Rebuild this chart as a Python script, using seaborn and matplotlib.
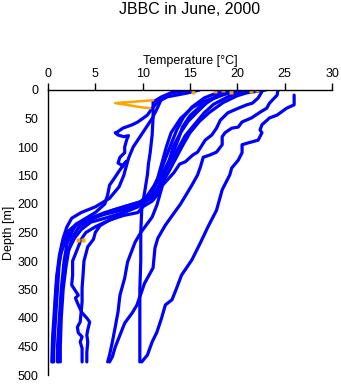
import matplotlib
matplotlib.use("Agg")
import matplotlib.pyplot as plt
import seaborn as sns
import pandas as pd

# ---- data: temperature [°C] / depth [m] profiles ----
p1_t = [26.0, 26.0, 25.2, 24.2, 23.4, 22.6, 22.4, 22.6, 22.2, 21.1, 20.5, 20.5, 20.1, 19.4, 19.2, 18.4, 17.8, 16.9, 16.1, 15.2, 14.1, 13.6, 13.1, 12.4, 12.0, 11.5, 11.0, 10.5, 9.9]
p1_d = [9, 26, 32, 44, 49, 61, 70, 75, 88, 93, 96, 110, 123, 137, 149, 175, 211, 240, 268, 298, 325, 347, 368, 377, 400, 425, 442, 465, 477]

p2_t = [24.3, 24.2, 23.4, 23.1, 22.4, 21.5, 20.5, 20.1, 19.4, 18.7, 18.4, 18.4, 17.8, 17.1, 16.4, 16.1, 15.8, 15.2, 14.0, 12.4, 11.6, 11.3, 11.1, 10.2, 9.4, 8.9, 8.1, 7.6, 7.1, 6.8, 6.5]
p2_d = [0, 9, 23, 32, 39, 49, 56, 65, 67, 75, 82, 96, 109, 114, 118, 135, 149, 167, 200, 237, 260, 277, 312, 339, 377, 391, 409, 430, 451, 468, 477]

p3_t = [22.7, 22.2, 21.6, 21.0, 20.1, 19.0, 18.2, 17.8, 17.3, 16.6, 16.3, 15.8, 15.3, 14.5, 13.9, 13.3, 12.1, 11.5, 11.0, 9.8, 9.2, 8.4, 8.1, 7.6, 7.4, 7.1, 6.8, 6.5, 6.3]
p3_d = [0, 14, 23, 26, 32, 40, 53, 67, 79, 88, 96, 109, 114, 126, 130, 145, 167, 202, 223, 250, 267, 302, 330, 360, 389, 416, 442, 465, 477]

pv_t = [14.5, 13.0, 12.0, 11.1, 11.1, 11.0, 10.8, 10.6, 10.5, 10.2, 9.9, 9.8, 9.8, 9.7, 9.7, 9.7, 9.7]
pv_d = [0, 5, 12, 21, 49, 79, 109, 131, 149, 180, 210, 250, 300, 350, 400, 450, 477]

pl_t = [16.0, 14.8, 12.6, 11.6, 11.0, 10.5, 9.5, 8.9, 7.9, 7.3, 7.1, 7.4, 8.0, 8.5, 8.3, 8.1, 8.1, 7.6, 7.4, 7.9, 8.3, 7.6, 7.0, 6.5, 6.3, 6.0, 5.0, 4.0, 3.0, 2.5, 2.0, 1.7, 1.4, 1.2, 1.0, 1.0]
pl_d = [0, 5, 12, 21, 32, 44, 56, 61, 67, 74, 75, 79, 82, 80, 88, 100, 110, 118, 128, 133, 125, 140, 155, 167, 184, 200, 215, 225, 235, 250, 270, 300, 350, 400, 450, 477]

p4_t = [21.0, 19.5, 18.5, 16.5, 15.3, 14.0, 13.0, 12.5, 12.0, 11.5, 11.0, 10.0, 8.0, 6.0, 4.5, 3.0, 2.0, 1.5, 1.2, 1.0, 0.8, 0.6, 0.5]
p4_d = [0, 4, 8, 20, 30, 50, 75, 100, 130, 160, 180, 195, 205, 215, 225, 235, 250, 270, 300, 350, 400, 450, 477]

p5_t = [22.0, 20.0, 19.0, 17.5, 16.5, 15.5, 14.5, 13.5, 12.5, 12.0, 11.3, 10.0, 8.0, 6.0, 4.5, 3.5, 2.8, 2.2, 1.8, 1.5, 1.3, 1.2, 1.1]
p5_d = [0, 5, 12, 25, 40, 60, 80, 110, 140, 160, 180, 200, 215, 225, 232, 245, 260, 280, 300, 350, 400, 450, 477]

p6_t = [20.0, 19.0, 17.5, 16.0, 15.0, 14.2, 13.8, 13.2, 12.6, 12.0, 11.2, 10.8, 9.5, 8.0, 7.0, 6.0, 5.0, 4.0, 3.5, 3.2, 2.6, 2.6, 2.5, 3.2, 2.9, 3.2, 3.6, 4.1, 4.4, 4.2, 4.1, 4.2, 4.1, 4.1]
p6_d = [0, 5, 15, 30, 45, 65, 85, 110, 130, 150, 170, 190, 205, 215, 225, 232, 240, 250, 262, 275, 300, 325, 342, 360, 365, 377, 391, 400, 407, 421, 430, 442, 460, 477]

p7_t = [23.0, 21.0, 20.0, 18.5, 17.0, 16.0, 15.0, 14.3, 13.5, 12.7, 12.0, 11.5, 11.0, 10.0, 9.5, 8.0, 6.5, 5.5, 5.0, 4.8, 4.2, 3.8, 3.7, 3.6, 3.6, 3.4, 3.1, 3.2, 3.6, 3.4, 3.6, 3.6]
p7_d = [0, 5, 10, 22, 40, 55, 75, 95, 120, 145, 165, 185, 195, 205, 215, 220, 228, 238, 250, 262, 275, 300, 325, 347, 372, 407, 416, 426, 433, 442, 453, 477]

p8_t = [15.0, 13.0, 12.0, 11.6, 11.0, 10.0, 9.0, 8.5, 8.0, 7.5, 6.5, 5.0, 3.5, 2.5, 2.0, 1.6, 1.2, 0.9, 0.7, 0.5, 0.4]
p8_d = [0, 5, 15, 30, 50, 75, 100, 120, 150, 170, 190, 205, 215, 225, 240, 260, 290, 330, 380, 430, 477]

p9_t = [20.5, 19.0, 17.8, 16.8, 15.8, 14.8, 14.0, 13.2, 12.8, 12.2, 11.6, 11.0, 9.0, 7.0, 5.5, 4.2, 3.2, 2.6, 2.2, 1.9, 1.6, 1.4, 1.3, 1.3]
p9_d = [0, 3, 10, 22, 38, 55, 75, 100, 125, 150, 172, 190, 200, 210, 220, 230, 242, 258, 280, 310, 350, 400, 450, 477]

p10_t = [19.5, 18.0, 16.5, 15.2, 14.3, 13.6, 13.0, 12.3, 11.8, 11.2, 10.5, 9.5, 8.0, 6.0, 4.0, 2.8, 2.0, 1.4, 1.0, 0.8, 0.7, 0.6, 0.6]
p10_d = [0, 4, 14, 30, 48, 70, 95, 125, 148, 168, 185, 200, 210, 218, 228, 240, 258, 285, 320, 360, 410, 450, 477]

# flagged (orange) samples
or_line_t = [11.1, 9.5, 7.1, 8.3, 9.7, 10.8]
or_line_d = [18, 20, 23, 26, 30, 32]
or_pts_t = [15.3, 17.6, 18.5, 19.3, 21.4, 22.1, 3.2, 3.7]
or_pts_d = [4, 2, 0, 4, 2, 0, 263, 263]

profiles = {
    "p1": (p1_t, p1_d), "p2": (p2_t, p2_d), "p3": (p3_t, p3_d),
    "pv": (pv_t, pv_d), "pl": (pl_t, pl_d), "p4": (p4_t, p4_d),
    "p5": (p5_t, p5_d), "p6": (p6_t, p6_d), "p7": (p7_t, p7_d),
    "p8": (p8_t, p8_d), "p9": (p9_t, p9_d), "p10": (p10_t, p10_d),
}

rows = []
for name, (ts, ds) in profiles.items():
    for i, (t, d) in enumerate(zip(ts, ds)):
        rows.append({"cast": name, "order": i, "T": t, "D": d})
df = pd.DataFrame(rows)

sns.set_theme(style="white")
plt.rcParams["font.family"] = ["Liberation Sans", "DejaVu Sans"]
plt.rcParams["text.color"] = "black"
plt.rcParams["axes.labelcolor"] = "black"
plt.rcParams["xtick.color"] = "black"
plt.rcParams["ytick.color"] = "black"

fig = plt.figure(figsize=(3.41, 3.84), dpi=100)
ax = fig.add_axes([48 / 341, 9 / 384, 284 / 341, 285 / 384])

sns.lineplot(data=df, x="T", y="D", units="cast", estimator=None, sort=False,
             color="#0000FF", lw=2.3, ax=ax, legend=False)
ax.plot(or_line_t, or_line_d, color="#FFA500", lw=1.8)
ax.plot(or_pts_t, or_pts_d, ls="none", marker="s", ms=2.5, color="#FFA500", mec="none")

ax.set_xlim(0, 30)
ax.set_ylim(500, 0)
ax.set_xticks([0, 5, 10, 15, 20, 25, 30])
ax.set_yticks(range(0, 501, 50))
ax.xaxis.tick_top()
ax.xaxis.set_label_position("top")
ax.set_xlabel("Temperature [\u00b0C]", fontsize=9, labelpad=3)
ax.set_ylabel("Depth [m]", fontsize=9, labelpad=2)
ax.tick_params(axis="both", labelsize=9, length=5, width=1, color="black",
               labelcolor="black", direction="out", pad=2)
for s in ["bottom", "right"]:
    ax.spines[s].set_visible(False)
for s in ["top", "left"]:
    ax.spines[s].set_color("black")
    ax.spines[s].set_linewidth(1)
ax.grid(False)

fig.text(190 / 341, 1 - 10 / 384, "JBBC in June, 2000", ha="center", va="center",
         fontsize=11.5, color="black")

fig.savefig("out.png", dpi=100)
